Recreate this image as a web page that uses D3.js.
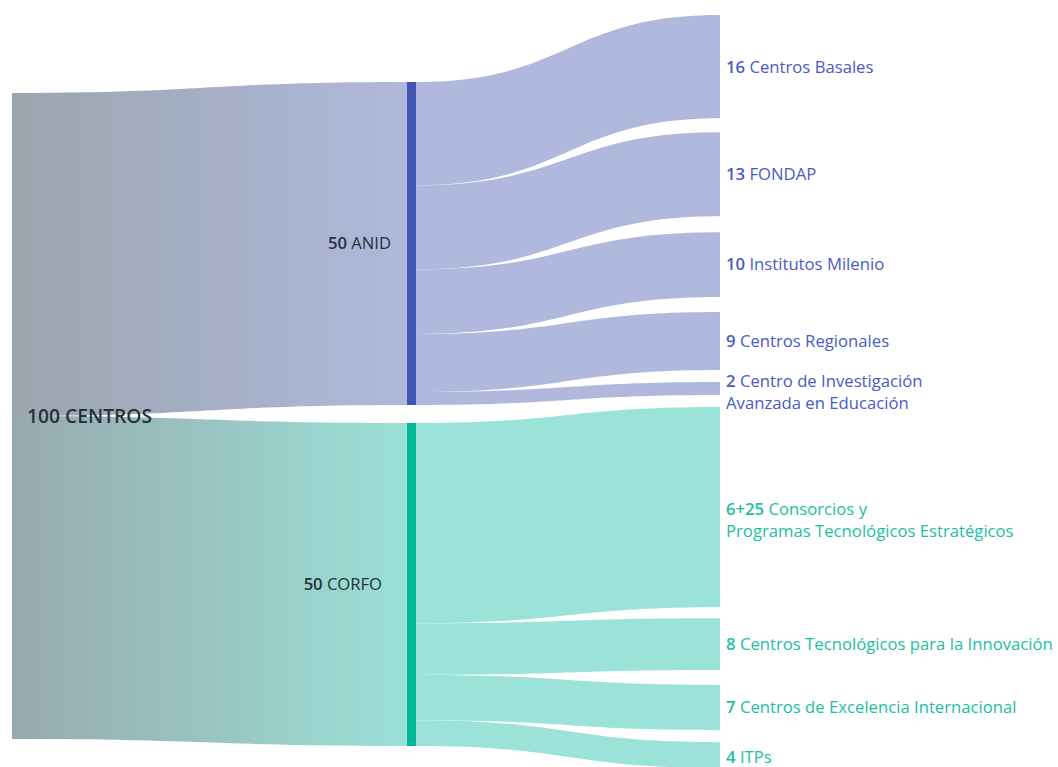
<!DOCTYPE html>
<html><head><meta charset="utf-8">
<script src="https://cdn.jsdelivr.net/npm/d3@7"></script>
<style>
html,body{margin:0;padding:0;background:#fff;}
svg{display:block;font-family:"Open Sans","Noto Sans",sans-serif;}
</style></head>
<body>
<svg id="chart" width="1058" height="767"></svg>
<script>
// ---- data ----
const rootLabel = "100 CENTROS";
const rootValue = 100;
const groups = ["ANID", "CORFO"];
const groupValues = [50, 50];
const leafGroup = ["ANID","ANID","ANID","ANID","ANID","CORFO","CORFO","CORFO","CORFO"];
const leafValues = [16, 13, 10, 9, 2, 31, 8, 7, 4];
const leafNumbers = ["16", "13", "10", "9", "2", "6+25", "8", "7", "4"];
const leafNames = [
  ["Centros Basales"],
  ["FONDAP"],
  ["Institutos Milenio"],
  ["Centros Regionales"],
  ["Centro de Investigación", "Avanzada en Educación"],
  ["Consorcios y", "Programas Tecnológicos Estratégicos"],
  ["Centros Tecnológicos para la Innovación"],
  ["Centros de Excelencia Internacional"],
  ["ITPs"]
];

// ---- style ----
const colors = {
  ANID: {bar: "#4255b2", link: "#b1b8de", text: "#4a5bc2", grad: ["#9ba6ae", "#b0b8dc"]},
  CORFO: {bar: "#00b898", link: "#9be3d8", text: "#1cc0a0", grad: ["#97a9ae", "#9ae0d6"]}
};

const svg = d3.select("#chart");
const defs = svg.append("defs");

const x0 = 12, xMid = 407, barW = 9, xRight = 720;
const k = d3.scaleLinear().domain([0, rootValue]).range([0, 646]);
const rootTop = 93;
const midTop = 82, midGap = 18;
const rightTop = 15;
const rightGaps = [14, 16, 15, 12, 12, 11, 15, 12];

function band(xa, ya, xb, yb, w) {
  const xm = (xa + xb) / 2;
  const p = d3.path();
  p.moveTo(xa, ya);
  p.bezierCurveTo(xm, ya, xm, yb, xb, yb);
  p.lineTo(xb, yb + w);
  p.bezierCurveTo(xm, yb + w, xm, ya + w, xa, ya + w);
  p.closePath();
  return p.toString();
}

const mid = [];
let ym = midTop, yr = rootTop;
groups.forEach((g, i) => {
  const h = k(groupValues[i]);
  mid.push({name: g, value: groupValues[i], y: ym, h: h, srcY: yr, out: ym});
  ym += h + midGap;
  yr += h;
});

mid.forEach((m, i) => {
  const gid = "grad" + i;
  const lg = defs.append("linearGradient").attr("id", gid)
    .attr("gradientUnits", "userSpaceOnUse")
    .attr("x1", x0).attr("x2", xMid).attr("y1", 0).attr("y2", 0);
  lg.append("stop").attr("offset", "0%").attr("stop-color", colors[m.name].grad[0]);
  lg.append("stop").attr("offset", "100%").attr("stop-color", colors[m.name].grad[1]);
  svg.append("path")
    .attr("d", band(x0, m.srcY, xMid, m.y, m.h))
    .attr("fill", "url(#" + gid + ")");
});

let yRight = rightTop;
const leaves = leafValues.map((v, i) => {
  const m = mid.find(d => d.name === leafGroup[i]);
  const h = k(v);
  const leaf = {i, v, h, group: leafGroup[i], sy: m.out, ty: yRight};
  m.out += h;
  yRight += h + (rightGaps[i] || 0);
  return leaf;
});

leaves.forEach(l => {
  svg.append("path")
    .attr("d", band(xMid + barW, l.sy, xRight, l.ty, l.h))
    .attr("fill", colors[l.group].link);
});

mid.forEach(m => {
  svg.append("rect")
    .attr("x", xMid).attr("y", m.y).attr("width", barW).attr("height", m.h)
    .attr("fill", colors[m.name].bar);
});

svg.append("text")
  .attr("x", 27).attr("y", 416)
  .attr("dy", "0.35em")
  .attr("font-size", 19.3).attr("font-weight", 600)
  .attr("fill", "#27313d")
  .text(rootLabel);

const groupLabelEnd = {ANID: 391, CORFO: 382};
mid.forEach(m => {
  const t = svg.append("text")
    .attr("x", groupLabelEnd[m.name]).attr("y", m.y + m.h / 2)
    .attr("dy", "0.35em").attr("text-anchor", "end")
    .attr("font-size", 16.6).attr("fill", "#27313d");
  t.append("tspan").attr("font-weight", 600).text(m.value + " ");
  t.append("tspan").text(m.name);
});

const firstLineShift = {4: -7, 5: 2, 8: 2};
leaves.forEach(l => {
  const lines = leafNames[l.i];
  const cy = l.ty + l.h / 2 + (firstLineShift[l.i] || 0);
  const t = svg.append("text")
    .attr("x", 726).attr("y", cy).attr("dy", "0.35em")
    .attr("font-size", 16.7).attr("fill", colors[l.group].text);
  const first = t.append("tspan");
  first.append("tspan").attr("font-weight", 600).text(leafNumbers[l.i] + " ");
  first.append("tspan").text(lines[0]);
  lines.slice(1).forEach(s => {
    t.append("tspan").attr("x", 726).attr("dy", 22).text(s);
  });
});
</script>
</body></html>
